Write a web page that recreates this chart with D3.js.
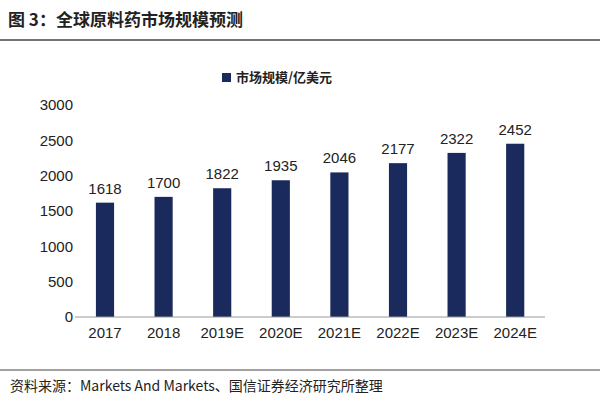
<!DOCTYPE html>
<html><head><meta charset="utf-8">
<script src="https://cdn.jsdelivr.net/npm/d3@7"></script>
<style>body{margin:0;background:#fff}svg{font-family:"Noto Sans CJK SC","DejaVu Sans",sans-serif}</style>
</head><body><svg id="c" width="600" height="400"></svg>
<script>
const categories=["2017","2018","2019E","2020E","2021E","2022E","2023E","2024E"];
const values=[1618,1700,1822,1935,2046,2177,2322,2452];
const yTicks=[0,500,1000,1500,2000,2500,3000];
const svg=d3.select("#c");
svg.append("text").attr("x",8).attr("y",26).attr("font-size",17).attr("font-weight","bold").attr("fill","#222").text("图 3：全球原料药市场规模预测");
svg.append("line").attr("x1",0).attr("x2",600).attr("y1",40).attr("y2",40).attr("stroke","#444").attr("stroke-width",1.5);
svg.append("line").attr("x1",0).attr("x2",600).attr("y1",370).attr("y2",370).attr("stroke","#444").attr("stroke-width",1);
svg.append("text").attr("x",10).attr("y",391).attr("font-size",14).attr("fill","#222").text("资料来源：Markets And Markets、国信证券经济研究所整理");
const x=d3.scaleBand().domain(categories).range([75.7,544.5]).paddingInner(0.69).paddingOuter(0.345);
const y=d3.scaleLinear().domain([0,3000]).range([317,105]);
svg.append("g").selectAll("rect").data(values).join("rect")
 .attr("x",(d,i)=>x(categories[i])).attr("width",x.bandwidth())
 .attr("y",d=>y(d)).attr("height",d=>y(0)-y(d)).attr("fill","#1b2a5c");
svg.append("g").selectAll("text").data(values).join("text")
 .attr("x",(d,i)=>x(categories[i])+x.bandwidth()/2).attr("y",d=>y(d)-9)
 .attr("text-anchor","middle").attr("font-size",15).attr("fill","#222").attr("font-family","Liberation Sans, Arial, sans-serif").text(d=>d);
const ya=svg.append("g").attr("transform","translate(75,0)").call(d3.axisLeft(y).tickValues(yTicks).tickFormat(d3.format("d")).tickSize(0).tickPadding(2));
ya.select(".domain").remove();
ya.selectAll("text").attr("font-size",15).attr("fill","#222").attr("font-family","Liberation Sans, Arial, sans-serif");
const xa=svg.append("g").attr("transform","translate(0,317)").call(d3.axisBottom(x).tickSize(0).tickPadding(10));
xa.select(".domain").attr("stroke","#999").attr("d","M75,0H545");
xa.selectAll("text").attr("font-size",15).attr("fill","#222").attr("font-family","Liberation Sans, Arial, sans-serif");
svg.append("rect").attr("x",222).attr("y",73).attr("width",9).attr("height",9).attr("fill","#1b2a5c");
svg.append("text").attr("x",236).attr("y",82).attr("font-size",13).attr("font-weight","bold").attr("fill","#222").text("市场规模/亿美元");
</script></body></html>
